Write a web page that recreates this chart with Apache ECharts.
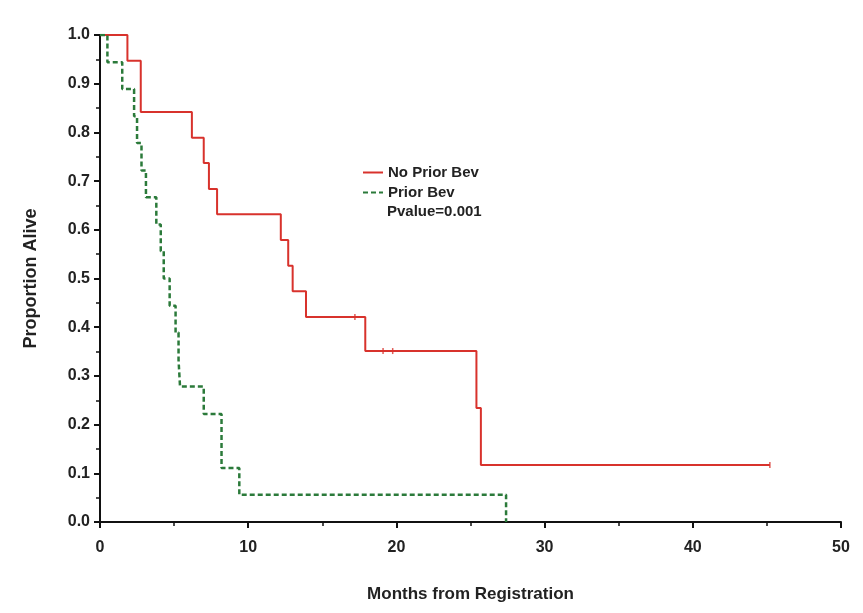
<!DOCTYPE html>
<html>
<head>
<meta charset="utf-8">
<script src="https://cdn.jsdelivr.net/npm/echarts@6/dist/echarts.min.js"></script>
<style>
html,body{margin:0;padding:0;background:#fff;}
#chart{width:863px;height:613px;}
</style>
</head>
<body>
<div id="chart"></div>
<script>
// Kaplan-Meier step data
const noPriorTimes = [0, 1.85, 2.75, 6.2, 7.0, 7.35, 7.9, 12.2, 12.7, 13.0, 13.9, 17.9, 25.4, 25.7, 45.2];
const noPriorSurv  = [1, 0.947, 0.842, 0.789, 0.737, 0.684, 0.632, 0.579, 0.526, 0.474, 0.421, 0.351, 0.234, 0.117, 0.117];
const noPriorCensorTimes = [17.2, 19.1, 19.75, 45.2];
const noPriorCensorSurv  = [0.421, 0.351, 0.351, 0.117];

const priorTimes = [0, 0.5, 1.5, 2.3, 2.5, 2.8, 3.1, 3.8, 4.1, 4.3, 4.7, 5.1, 5.3, 5.4, 7.0, 8.2, 9.4, 27.4];
const priorSurv  = [1, 0.944, 0.889, 0.833, 0.778, 0.722, 0.667, 0.611, 0.556, 0.5, 0.444, 0.389, 0.333, 0.278, 0.222, 0.111, 0.056, 0];

const seriesNames = ['No Prior Bev', 'Prior Bev'];
const pvalueText = 'Pvalue=0.001';
const xTitle = 'Months from Registration';
const yTitle = 'Proportion Alive';

const zip = (a, b) => a.map((v, i) => [v, b[i]]);
const FONT = '"Liberation Sans", Arial, sans-serif';
const RED = '#d8322c';
const GREEN = '#2b7a3a';

const chart = echarts.init(document.getElementById('chart'), null, {renderer: 'canvas'});
chart.setOption({
  animation: false,
  backgroundColor: '#ffffff',
  grid: {left: 100, right: 22, top: 35, bottom: 91, containLabel: false},
  legend: {
    orient: 'vertical', left: 357, top: 160,
    itemWidth: 20, itemHeight: 14, itemGap: 5,
    itemStyle: {opacity: 0},
    textStyle: {fontFamily: FONT, fontWeight: 'bold', fontSize: 15, color: '#222'},
    data: seriesNames
  },
  graphic: [{
    type: 'text', left: 387, top: 204,
    style: {text: pvalueText, font: 'bold 15px "Liberation Sans", Arial, sans-serif', fill: '#222'}
  }],
  xAxis: {
    type: 'value', min: 0, max: 50, interval: 10,
    name: xTitle, nameLocation: 'middle', nameGap: 64,
    nameTextStyle: {fontFamily: FONT, fontWeight: 'bold', fontSize: 17, color: '#222'},
    axisLine: {show: true, onZero: false, lineStyle: {color: '#111', width: 2}},
    axisTick: {show: true, length: 6, lineStyle: {color: '#111', width: 2}},
    minorTick: {show: true, splitNumber: 2, length: 4, lineStyle: {color: '#111', width: 1.5}},
    axisLabel: {fontFamily: FONT, fontWeight: 'bold', fontSize: 16, color: '#222', margin: 18},
    splitLine: {show: false}
  },
  yAxis: {
    type: 'value', min: 0, max: 1, interval: 0.1,
    name: yTitle, nameLocation: 'middle', nameGap: 60, nameRotate: 90,
    nameTextStyle: {fontFamily: FONT, fontWeight: 'bold', fontSize: 18, color: '#222'},
    axisLine: {show: true, onZero: false, lineStyle: {color: '#111', width: 2}},
    axisTick: {show: true, length: 6, lineStyle: {color: '#111', width: 2}},
    minorTick: {show: true, splitNumber: 2, length: 4, lineStyle: {color: '#111', width: 1.5}},
    axisLabel: {fontFamily: FONT, fontWeight: 'bold', fontSize: 16, color: '#222', margin: 10,
      formatter: v => v.toFixed(1)},
    splitLine: {show: false}
  },
  series: [
    {
      name: seriesNames[0], type: 'line', step: 'end',
      data: zip(noPriorTimes, noPriorSurv),
      symbol: 'none', showSymbol: false,
      lineStyle: {color: RED, width: 2},
      itemStyle: {color: RED},
      z: 3
    },
    {
      name: seriesNames[1], type: 'line', step: 'end',
      data: zip(priorTimes, priorSurv),
      symbol: 'none', showSymbol: false,
      lineStyle: {color: GREEN, width: 2.5, type: [5, 3]},
      itemStyle: {color: GREEN},
      z: 4
    },
    {
      name: 'censor', type: 'scatter',
      data: zip(noPriorCensorTimes, noPriorCensorSurv),
      symbol: 'rect', symbolSize: [1.5, 6],
      itemStyle: {color: RED},
      z: 5
    }
  ]
});
</script>
</body>
</html>
